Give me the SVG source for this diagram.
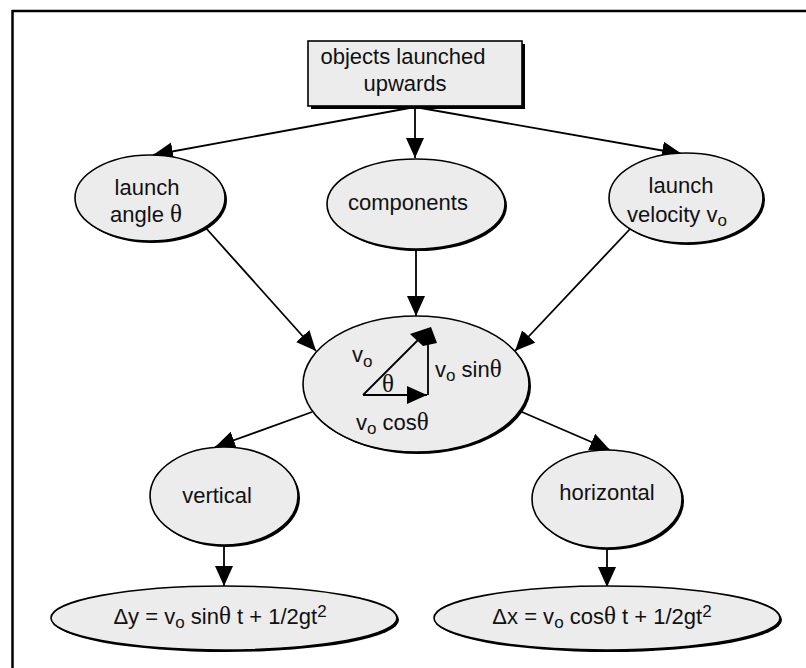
<svg xmlns="http://www.w3.org/2000/svg" width="806" height="668" viewBox="0 0 806 668">
<style>
text{font-family:"Liberation Sans",Arial,sans-serif;font-size:22px;fill:#111}
.th{font-family:"Liberation Serif","Times New Roman",serif;font-size:25px}
.sub{font-size:17px}
.sh{fill:#000}
.nd{fill:#ececec;stroke:#000;stroke-width:1.6}
.cn{stroke:#000;stroke-width:1.8;fill:none}
</style>
<defs>
<marker id="ah" markerUnits="userSpaceOnUse" markerWidth="22" markerHeight="20" refX="20" refY="9" orient="auto">
<path d="M0,0 L20,9 L0,18 Z" fill="#000"/>
</marker>
</defs>
<rect width="806" height="668" fill="#fff"/>
<g id="frame">
<line x1="12" y1="11" x2="806" y2="11" stroke="#000" stroke-width="2.5"/>
<line x1="12.5" y1="10" x2="12.5" y2="668" stroke="#000" stroke-width="2.5"/>
</g>
<g id="connectors">
<line class="cn" x1="415" y1="107" x2="153" y2="155" marker-end="url(#ah)"/>
<line class="cn" x1="415" y1="107" x2="415" y2="158" marker-end="url(#ah)"/>
<line class="cn" x1="415" y1="107" x2="682" y2="154" marker-end="url(#ah)"/>
<line class="cn" x1="205" y1="227" x2="316" y2="351" marker-end="url(#ah)"/>
<line class="cn" x1="416" y1="250" x2="416" y2="316" marker-end="url(#ah)"/>
<line class="cn" x1="630" y1="229" x2="515" y2="351" marker-end="url(#ah)"/>
<line class="cn" x1="312" y1="412" x2="215" y2="447" marker-end="url(#ah)"/>
<line class="cn" x1="522" y1="412" x2="610" y2="450" marker-end="url(#ah)"/>
<line class="cn" x1="224" y1="545" x2="224" y2="586" marker-end="url(#ah)"/>
<line class="cn" x1="607" y1="548" x2="607" y2="587" marker-end="url(#ah)"/>
</g>
<g id="top">
<rect class="sh" x="311" y="44" width="214" height="65"/>
<rect class="nd" x="308" y="41" width="214" height="65"/>
<text x="403" y="64" text-anchor="middle">objects launched</text>
<text x="405" y="91" text-anchor="middle">upwards</text>
</g>
<g id="angle">
<ellipse class="sh" cx="152" cy="200" rx="75" ry="43"/>
<ellipse class="nd" cx="150" cy="198" rx="75" ry="43"/>
<text x="147" y="195" text-anchor="middle">launch</text>
<text x="146" y="222" text-anchor="middle">angle <tspan class="th">θ</tspan></text>
</g>
<g id="components">
<ellipse class="sh" cx="418" cy="206" rx="89" ry="45"/>
<ellipse class="nd" cx="416" cy="204" rx="89" ry="45"/>
<text x="408" y="210" text-anchor="middle">components</text>
</g>
<g id="velocity">
<ellipse class="sh" cx="688" cy="200" rx="77" ry="45"/>
<ellipse class="nd" cx="686" cy="198" rx="77" ry="45"/>
<text x="681" y="193" text-anchor="middle">launch</text>
<text x="677" y="222" text-anchor="middle">velocity v<tspan class="sub" dy="4">o</tspan></text>
</g>
<g id="center">
<ellipse class="sh" cx="418" cy="386" rx="113" ry="68"/>
<ellipse class="nd" cx="416" cy="384" rx="113" ry="68"/>
<line class="cn" x1="363" y1="395" x2="418" y2="340"/>
<polygon points="410,334 431,327 437,343 423,346" fill="#000"/>
<line class="cn" x1="428" y1="343" x2="428" y2="395"/>
<line class="cn" x1="363" y1="395" x2="427" y2="395" marker-end="url(#ah)"/>
<text x="352" y="362">v<tspan class="sub" dy="5">o</tspan></text>
<text class="th" x="388" y="392" text-anchor="middle">θ</text>
<text x="435" y="377">v<tspan class="sub" dy="4">o</tspan><tspan dy="-4"> sin</tspan><tspan class="th">θ</tspan></text>
<text x="356" y="430">v<tspan class="sub" dy="4">o</tspan><tspan dy="-4"> cos</tspan><tspan class="th">θ</tspan></text>
</g>
<g id="vertical">
<ellipse class="sh" cx="226" cy="498" rx="74" ry="49"/>
<ellipse class="nd" cx="224" cy="496" rx="74" ry="49"/>
<text x="217" y="503" text-anchor="middle">vertical</text>
</g>
<g id="horizontal">
<ellipse class="sh" cx="609" cy="501" rx="75" ry="49"/>
<ellipse class="nd" cx="607" cy="499" rx="75" ry="49"/>
<text x="607" y="500" text-anchor="middle">horizontal</text>
</g>
<g id="dy">
<ellipse class="sh" cx="226" cy="620" rx="173" ry="32"/>
<ellipse class="nd" cx="224" cy="618" rx="173" ry="32"/>
<text x="220" y="624" text-anchor="middle">Δy = v<tspan class="sub" dy="4">o</tspan><tspan dy="-4"> sin</tspan><tspan class="th">θ</tspan> t + 1/2gt<tspan class="sub" dy="-7">2</tspan></text>
</g>
<g id="dx">
<ellipse class="sh" cx="609" cy="620" rx="173" ry="32"/>
<ellipse class="nd" cx="607" cy="618" rx="173" ry="32"/>
<text x="602" y="624" text-anchor="middle">Δx = v<tspan class="sub" dy="4">o</tspan><tspan dy="-4"> cos</tspan><tspan class="th">θ</tspan> t + 1/2gt<tspan class="sub" dy="-7">2</tspan></text>
</g>
</svg>
